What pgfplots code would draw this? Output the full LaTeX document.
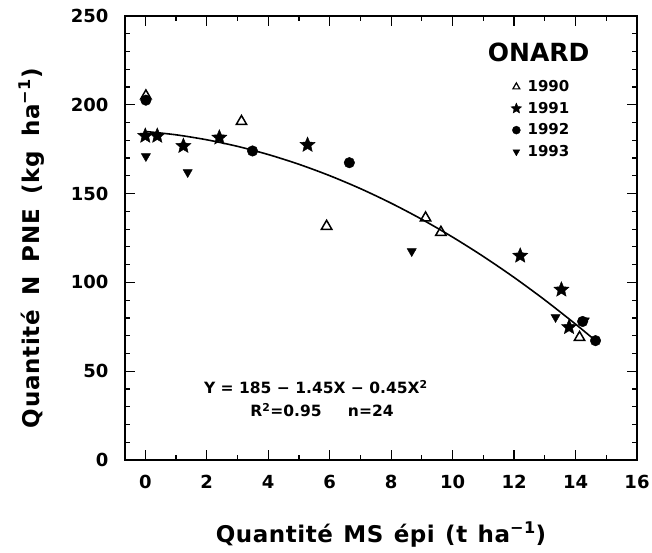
\documentclass[border=0pt]{standalone}
\usepackage{fontspec}
\setmainfont{DejaVu Sans}
\usepackage{pgfplots}
\pgfplotsset{compat=1.18}

% filled five-point star
\pgfdeclareplotmark{fstar}{%
  \pgfpathmoveto{\pgfpointpolar{90}{\pgfplotmarksize}}%
  \pgfpathlineto{\pgfpointpolar{126}{0.45\pgfplotmarksize}}%
  \pgfpathlineto{\pgfpointpolar{162}{\pgfplotmarksize}}%
  \pgfpathlineto{\pgfpointpolar{198}{0.45\pgfplotmarksize}}%
  \pgfpathlineto{\pgfpointpolar{234}{\pgfplotmarksize}}%
  \pgfpathlineto{\pgfpointpolar{270}{0.45\pgfplotmarksize}}%
  \pgfpathlineto{\pgfpointpolar{306}{\pgfplotmarksize}}%
  \pgfpathlineto{\pgfpointpolar{342}{0.45\pgfplotmarksize}}%
  \pgfpathlineto{\pgfpointpolar{18}{\pgfplotmarksize}}%
  \pgfpathlineto{\pgfpointpolar{54}{0.45\pgfplotmarksize}}%
  \pgfpathclose
  \pgfusepathqfillstroke
}

\begin{document}
\begin{tikzpicture}

\begin{axis}[
width=512pt, height=444pt, scale only axis,
xmin=-0.66, xmax=16,
ymin=0, ymax=250,
xtick={0,2,...,16},
ytick={0,50,...,250},
minor x tick num=1,
minor y tick num=4,
tick align=inside,
tick pos=both,
major tick length=10pt,
minor tick length=5pt,
axis line style={line width=1.6pt},
tick style={black, line width=1.2pt},
tick label style={font=\fontsize{18}{20}\selectfont\bfseries},
/pgf/number format/assume math mode=true,
xticklabel shift=12pt,
yticklabel shift=13pt,
label style={font=\fontsize{23}{26}\selectfont\bfseries},
xlabel={\addfontfeature{LetterSpace=2.5}Quantité\hspace{0.45em}MS\hspace{0.45em}épi\hspace{0.45em}(t\hspace{0.45em}ha\textsuperscript{−1})},
ylabel={\addfontfeature{LetterSpace=3}Quantité\hspace{0.62em}N\hspace{0.62em}PNE\hspace{0.62em}(kg\hspace{0.62em}ha\textsuperscript{−1})},
xlabel style={yshift=-26pt},
ylabel style={yshift=20pt, xshift=-10pt},
legend style={draw=none, fill=none, at={(axis cs:11.8,216)}, anchor=north west,
  font=\fontsize{15}{17}\selectfont\bfseries, row sep=5pt},
legend cell align=left,
]

% fitted curve Y = 185 - 1.45X - 0.45X^2
\addplot [line width=1.6pt, no marks, smooth, forget plot] coordinates {
(0.05,184.9) (1,183.1) (2,180.3) (3,176.6) (4,172.0) (5,166.5) (6,160.1)
(7,152.8) (8,144.6) (9,135.5) (10,125.5) (11,114.6) (12,102.8)
(13,90.1) (14,76.5) (14.65,67.2)
};

% 1990
\addplot [only marks, mark=triangle, mark size=6pt, mark options={fill=white, line width=1.5pt}, forget plot] coordinates {
(0.02,205) (3.13,190.6) (5.9,131.6) (9.12,136.3) (9.62,128.2) (14.13,69)
};
% 1991
\addplot [only marks, mark=fstar, mark size=8pt, mark options={fill=black, line width=0.4pt}, forget plot] coordinates {
(0,182.5) (0.39,182.5) (1.24,176.8) (2.41,181.5) (5.28,177.4) (12.2,115) (13.54,95.9) (13.79,74.8)
};
% 1992
\addplot [only marks, mark=*, mark size=5.3pt, mark options={fill=black}, forget plot] coordinates {
(0.02,202.6) (3.49,174) (6.64,167.4) (14.23,78) (14.65,67.2)
};
% 1993
\addplot [only marks, mark=triangle*, mark size=5.3pt, mark options={fill=black, rotate=180}, forget plot] coordinates {
(0.02,171) (1.38,162) (8.67,117.5) (13.35,80.4) (14.3,78.5)
};

\addlegendimage{only marks, mark=triangle, mark size=4pt, mark options={fill=white, line width=1.2pt}}
\addlegendentry{\hspace{4pt}1990}
\addlegendimage{only marks, mark=fstar, mark size=5.5pt, mark options={fill=black, line width=0.4pt}}
\addlegendentry{\hspace{4pt}1991}
\addlegendimage{only marks, mark=*, mark size=4pt, mark options={fill=black}}
\addlegendentry{\hspace{4pt}1992}
\addlegendimage{only marks, mark=triangle*, mark size=4pt, mark options={fill=black, rotate=180}}
\addlegendentry{\hspace{4pt}1993}

\node [font=\fontsize{25}{28}\selectfont\bfseries] at (axis cs:12.8,229.5) {ONARD};
\node [font=\fontsize{15.5}{18}\selectfont\bfseries] at (axis cs:5.55,41)
  {Y\hspace{0.35em}=\hspace{0.35em}185\hspace{0.35em}−\hspace{0.35em}1.45X\hspace{0.35em}−\hspace{0.35em}0.45X\textsuperscript{2}};
\node [font=\fontsize{15.5}{18}\selectfont\bfseries] at (axis cs:5.75,28)
  {R\textsuperscript{2}=0.95\hspace{1.7em}n=24};

\end{axis}

\pgfresetboundingbox
\path ([xshift=-125pt,yshift=-93pt]current axis.south west)
  rectangle ([xshift=15pt,yshift=16pt]current axis.north east);

\end{tikzpicture}
\end{document}
